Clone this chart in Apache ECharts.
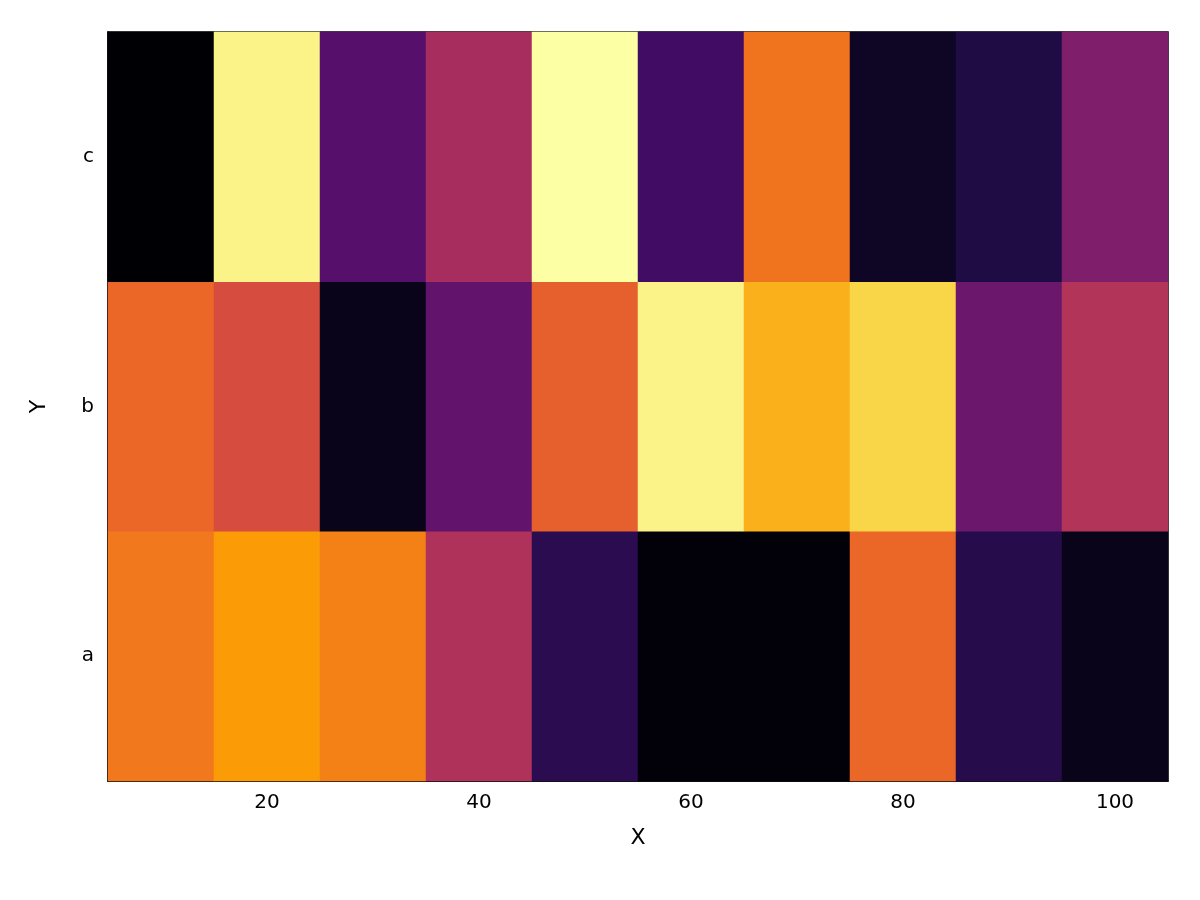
<!DOCTYPE html>
<html><head><meta charset="utf-8">
<script src="https://cdn.jsdelivr.net/npm/echarts@6/dist/echarts.min.js"></script>
<style>html,body{margin:0;background:#fff}#c{width:1200px;height:900px}</style>
</head><body><div id="c"></div>
<script>
const xCats = ['10','20','30','40','50','60','70','80','90','100'];
const yCats = ['a','b','c'];
const rowA = [0.70, 0.78, 0.72, 0.47, 0.15, 0.01, 0.01, 0.66, 0.14, 0.04];
const rowB = [0.66, 0.58, 0.04, 0.28, 0.64, 0.97, 0.82, 0.90, 0.30, 0.48];
const rowC = [0.00, 0.97, 0.25, 0.45, 1.00, 0.20, 0.69, 0.06, 0.12, 0.35];
const inferno = ['#000004','#1b0c41','#4a0c6b','#781c6d','#a52c60','#cf4446','#ed6925','#fb9b06','#f7d13d','#fcffa4'];
const data = [];
[rowA, rowB, rowC].forEach((row, j) => row.forEach((v, i) => data.push([i, j, v])));
const chart = echarts.init(document.getElementById('c'));
const font = {fontFamily: 'DejaVu Sans', fontSize: 20, color: '#000'};
chart.setOption({
  animation: false,
  grid: {left: 108, right: 32, top: 32, bottom: 119, show: true, borderColor: '#000', borderWidth: 1.5, backgroundColor: 'transparent'},
  xAxis: {type: 'category', data: xCats, name: 'X', nameLocation: 'middle', nameGap: 46,
    nameTextStyle: {...font, fontSize: 22},
    axisLine: {lineStyle: {color: '#000', width: 1.5}},
    axisTick: {alignWithLabel: true, length: 6, lineStyle: {color: '#000'}, interval: (i) => (i % 2 === 1)},
    axisLabel: {...font, interval: (i) => (i % 2 === 1), margin: 12},
    splitLine: {show: false}},
  yAxis: {type: 'category', data: yCats, name: 'Y', nameLocation: 'middle', nameGap: 58, nameRotate: 90,
    nameTextStyle: {...font, fontSize: 22},
    axisLine: {lineStyle: {color: '#000', width: 1.5}},
    axisTick: {alignWithLabel: true, length: 6, lineStyle: {color: '#000'}},
    axisLabel: {...font, margin: 14},
    splitLine: {show: false}},
  visualMap: {show: false, min: 0, max: 1, inRange: {color: inferno}},
  series: [{type: 'heatmap', data: data, itemStyle: {borderWidth: 0}, z: 1}]
});
</script></body></html>
